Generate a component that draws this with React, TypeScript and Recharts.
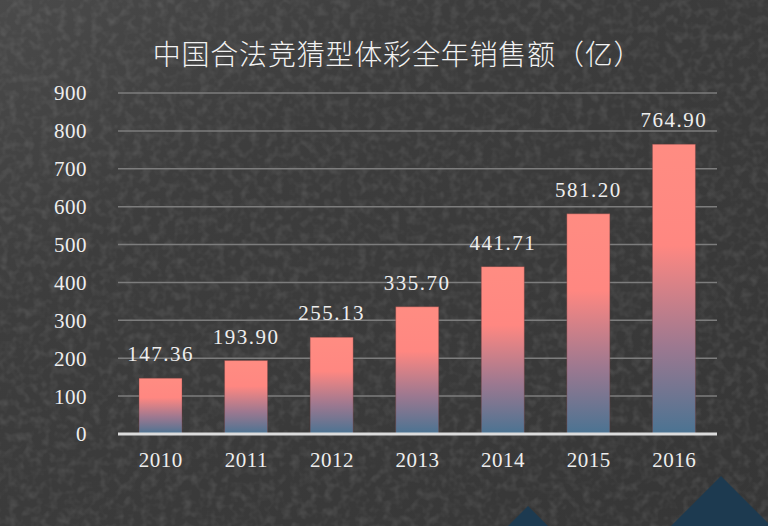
import { BarChart, Bar, XAxis, YAxis, CartesianGrid, LabelList } from "recharts"

const years = ["2010", "2011", "2012", "2013", "2014", "2015", "2016"]
const sales = [147.36, 193.9, 255.13, 335.7, 441.71, 581.2, 764.9]
const yTicks = [0, 100, 200, 300, 400, 500, 600, 700, 800, 900]

const data = years.map((year, i) => ({ year, sales: sales[i] }))

const serif = '"Liberation Serif", "DejaVu Serif", serif'

function Backdrop() {
  return (
    <svg width={768} height={526} style={{ position: "absolute", left: 0, top: 0 }}>
      <defs>
        <filter id="grain" x="0" y="0" width="100%" height="100%">
          <feTurbulence type="fractalNoise" baseFrequency="0.12" numOctaves={2} seed={4} />
          <feColorMatrix
            type="matrix"
            values="0 0 0 0 1  0 0 0 0 1  0 0 0 0 1  0 0 0 1.3 -0.55"
          />
        </filter>
        <linearGradient id="sheen" x1="0" y1="0" x2="1" y2="1">
          <stop offset="0%" stopColor="#4a4a4a" />
          <stop offset="30%" stopColor="#3d3d3d" />
          <stop offset="100%" stopColor="#363636" />
        </linearGradient>
      </defs>
      <rect width={768} height={526} fill="url(#sheen)" />
      <rect width={768} height={526} filter="url(#grain)" opacity={0.16} />
      <polygon points="528,506 506,528 550,528" fill="#1d3a50" />
      <polygon points="721,476 669,528 773,528" fill="#1d3a50" />
    </svg>
  )
}

export default function App() {
  return (
    <div style={{ position: "absolute", left: 0, top: 0, width: 768, height: 526, overflow: "hidden" }}>
      <Backdrop />
      <div
        style={{
          position: "absolute",
          left: 0,
          top: 35,
          width: 795,
          textAlign: "center",
          color: "#f2f2f2",
          fontFamily: '"Noto Sans CJK SC", sans-serif',
          fontWeight: 300,
          fontSize: 28,
          letterSpacing: 0.8,
          lineHeight: "36px",
        }}
      >
        中国合法竞猜型体彩全年销售额（亿）
      </div>
      <div style={{ position: "absolute", left: 0, top: 0 }}>
        <BarChart
          width={768}
          height={526}
          data={data}
          margin={{ top: 93, right: 51, left: 0, bottom: 52 }}
        >
          <defs>
            <linearGradient id="barFill" x1="0" y1="0" x2="0" y2="1">
              <stop offset="0%" stopColor="#ff8c82" />
              <stop offset="35%" stopColor="#ff8781" />
              <stop offset="70%" stopColor="#9c7890" />
              <stop offset="100%" stopColor="#4a7392" />
            </linearGradient>
          </defs>
          <CartesianGrid vertical={false} stroke="#7c7c7c" strokeWidth={1.5} />
          <XAxis
            dataKey="year"
            height={40}
            axisLine={{ stroke: "#dcdcdc", strokeWidth: 3 }}
            tickLine={false}
            tickSize={0}
            tickMargin={18}
            tick={{ fill: "#eeeeee", fontSize: 21, fontFamily: serif, letterSpacing: 0.5 }}
          />
          <YAxis
            width={118}
            domain={[0, 900]}
            ticks={yTicks}
            axisLine={false}
            tickLine={false}
            tickSize={0}
            tickMargin={31}
            tick={{ fill: "#eeeeee", fontSize: 21, fontFamily: serif, letterSpacing: 0.5 }}
          />
          <Bar
            dataKey="sales"
            barSize={43}
            fill="url(#barFill)"
            stroke="rgba(120,60,60,0.35)"
            strokeWidth={1}
            isAnimationActive={false}
          >
            <LabelList
              dataKey="sales"
              position="top"
              offset={17}
              formatter={(v: any) => Number(v).toFixed(2)}
              style={{ fill: "#eeeeee", fontSize: 21, fontFamily: serif, letterSpacing: 1.5 }}
            />
          </Bar>
        </BarChart>
      </div>
    </div>
  )
}
